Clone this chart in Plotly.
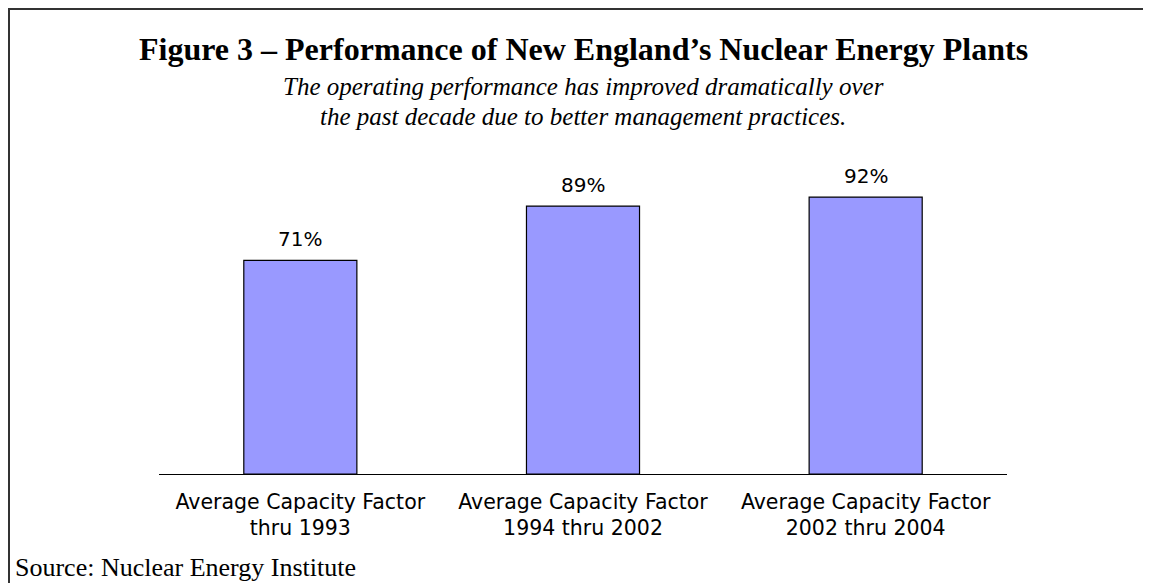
import plotly.graph_objects as go

# capacity factor data
periods = [
    "Average Capacity Factor<br>thru 1993",
    "Average Capacity Factor<br>1994 thru 2002",
    "Average Capacity Factor<br>2002 thru 2004",
]
capacity = [71, 89, 92]
labels = ["71%", "89%", "92%"]

# the page body has an 8px margin, so the figure is laid out in page pixels
OFF = 8
W, H = 1151 - OFF, 583 - OFF
L, R, T, B = 159 - OFF, 144, 173 - OFF, 109
pw, ph = W - L - R, H - T - B


def px_x(x):
    return (x - OFF - L) / pw


def px_y(y):
    return (H - B - (y - OFF)) / ph


fig = go.Figure()
fig.add_trace(
    go.Bar(
        x=periods,
        y=capacity,
        width=0.4,
        marker=dict(color="#9999FF", line=dict(color="black", width=1.2)),
        hoverinfo="skip",
    )
)

for p, v, t in zip(periods, capacity, labels):
    fig.add_annotation(
        x=p, y=v, text=t, showarrow=False, yanchor="middle", yshift=21,
        font=dict(family="DejaVu Sans", size=20, color="black"),
    )

serif = "Liberation Serif, Times New Roman, serif"
fig.add_annotation(
    xref="paper", yref="paper", x=0.5, y=px_y(49), yanchor="middle",
    text="<b>Figure 3 – Performance of New England’s Nuclear Energy Plants</b>",
    showarrow=False, font=dict(family=serif, size=32, color="black"),
)
subtitle = [
    "The operating performance has improved dramatically over",
    "the past decade due to better management practices.",
]
for line, yy in zip(subtitle, [87, 116]):
    fig.add_annotation(
        xref="paper", yref="paper", x=0.5, y=px_y(yy), yanchor="middle",
        text="<i>" + line + "</i>", showarrow=False,
        font=dict(family=serif, size=25, color="black"),
    )
fig.add_annotation(
    xref="paper", yref="paper", x=px_x(13), y=px_y(567), xanchor="left",
    yanchor="middle", text="Source: Nuclear Energy Institute",
    showarrow=False, font=dict(family=serif, size=26, color="black"),
)

# frame around the figure (open at right/bottom as in the source page)
fig.add_shape(
    type="rect", xref="paper", yref="paper",
    x0=px_x(9), x1=px_x(1170), y0=px_y(9), y1=px_y(600),
    line=dict(color="#333333", width=2),
)

fig.update_layout(
    width=W, height=H,
    margin=dict(l=L, r=R, t=T, b=B),
    paper_bgcolor="white", plot_bgcolor="white",
    showlegend=False,
    bargap=0.6,
)
fig.update_xaxes(
    showline=True, linecolor="black", linewidth=1.2, ticks="",
    tickfont=dict(family="DejaVu Sans", size=20.5, color="black"),
    ticklabelstandoff=9,
)
fig.update_yaxes(range=[0, 100], visible=False, showgrid=False)

fig.write_html("out.html")
